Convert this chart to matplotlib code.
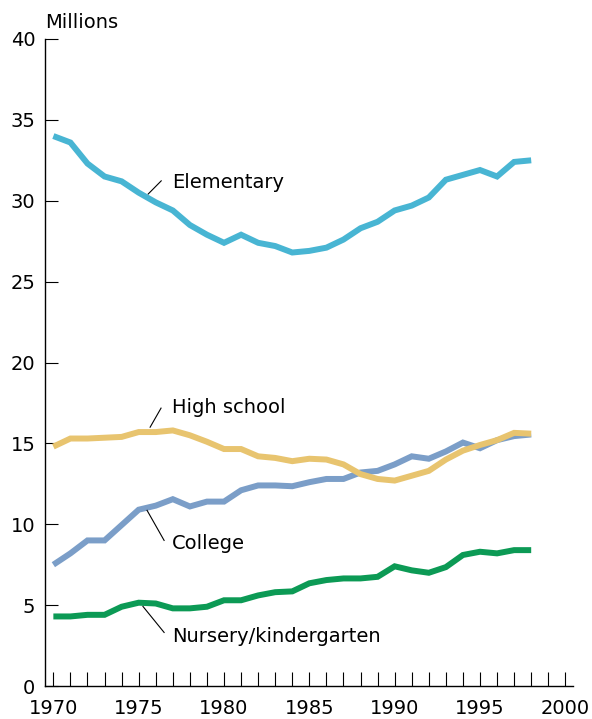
import matplotlib
matplotlib.use("Agg")
import matplotlib.pyplot as plt
from matplotlib.ticker import MultipleLocator

# School enrollment, millions, 1970-1998
years = list(range(1970, 1999))

elementary = [34.0, 33.6, 32.3, 31.5, 31.2, 30.5, 29.9, 29.4, 28.5, 27.9,
              27.4, 27.9, 27.4, 27.2, 26.8, 26.9, 27.1, 27.6, 28.3, 28.7,
              29.4, 29.7, 30.2, 31.3, 31.6, 31.9, 31.5, 32.4, 32.5]
high_school = [14.8, 15.3, 15.3, 15.35, 15.4, 15.7, 15.7, 15.8, 15.5, 15.1,
               14.65, 14.65, 14.2, 14.1, 13.9, 14.05, 14.0, 13.7, 13.1, 12.8,
               12.7, 13.0, 13.3, 14.0, 14.55, 14.9, 15.2, 15.65, 15.6]
college = [7.5, 8.2, 9.0, 9.0, 9.95, 10.9, 11.15, 11.55, 11.1, 11.4,
           11.4, 12.1, 12.4, 12.4, 12.35, 12.6, 12.8, 12.8, 13.2, 13.3,
           13.7, 14.2, 14.05, 14.5, 15.05, 14.7, 15.2, 15.45, 15.55]
nursery = [4.3, 4.3, 4.4, 4.4, 4.9, 5.15, 5.1, 4.8, 4.8, 4.9,
           5.3, 5.3, 5.6, 5.8, 5.85, 6.35, 6.55, 6.65, 6.65, 6.75,
           7.4, 7.15, 7.0, 7.35, 8.1, 8.3, 8.2, 8.4, 8.4]

plt.rcParams["font.family"] = ["DejaVu Sans"]

fig = plt.figure(figsize=(5.92, 7.19), dpi=100)
ax = fig.add_axes([45 / 592, 33 / 719, 528 / 592, 647 / 719])

style = dict(lw=4.3, solid_joinstyle="miter", solid_capstyle="butt")
ax.plot(years, college, color="#7b9ec8", zorder=2, **style)
ax.plot(years, high_school, color="#e8c46f", zorder=3, **style)
ax.plot(years, nursery, color="#0c9a55", zorder=2, **style)
ax.plot(years, elementary, color="#48b5d3", zorder=2, **style)

# series labels with leader lines
labels = [
    ("Elementary", 30.78, (1975.56, 1976.32), (30.42, 31.23)),
    ("High school", 16.85, (1975.67, 1976.31), (16.0, 17.18)),
    ("College", 8.49, (1975.49, 1976.49), (10.86, 9.0)),
    ("Nursery/kindergarten", 2.71, (1975.25, 1976.49), (4.92, 3.31)),
]
for text, ybase, lx, ly in labels:
    ax.text(1976.95, ybase, text, fontsize=14, ha="left", va="baseline")
    ax.plot(lx, ly, color="black", lw=0.8, zorder=4)

ax.text(1969.51, 40.68, "Millions", fontsize=14, ha="left", va="baseline",
        clip_on=False)

ax.set_xlim(1969.51, 2000.45)
ax.set_ylim(0, 40)

for side in ("top", "right"):
    ax.spines[side].set_visible(False)
for side in ("left", "bottom"):
    ax.spines[side].set_linewidth(1.0)

ax.set_yticks(range(0, 41, 5))
ax.xaxis.set_major_locator(MultipleLocator(5))
ax.xaxis.set_minor_locator(MultipleLocator(1))
ax.tick_params(axis="y", direction="in", length=9.6, width=0.8, pad=7, labelsize=14)
ax.tick_params(axis="x", which="both", direction="in", length=10.3, width=0.8)
ax.tick_params(axis="x", which="major", pad=9, labelsize=14)

fig.savefig("out.png", dpi=100)
